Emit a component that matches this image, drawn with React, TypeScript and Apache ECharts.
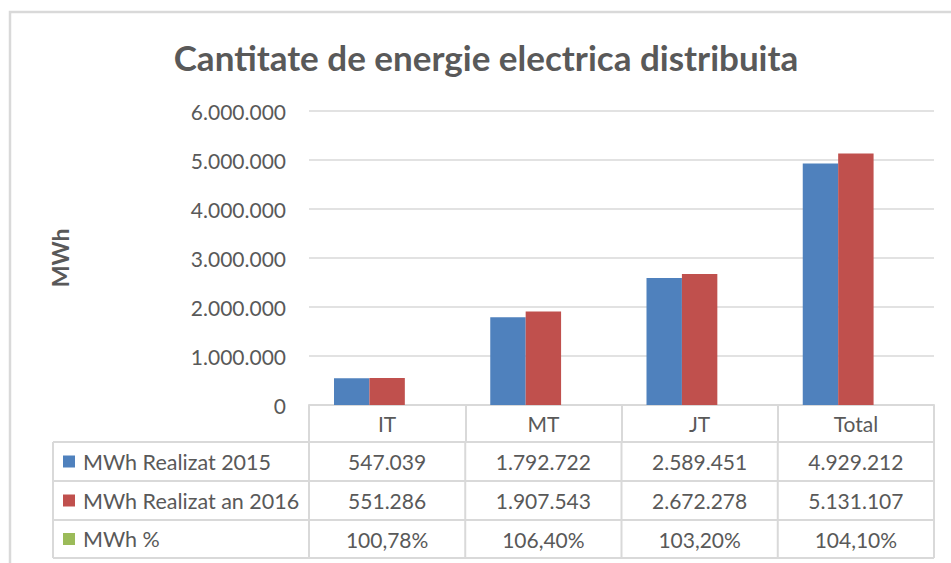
import React, { useEffect, useRef } from "react";
import * as echarts from "echarts";

const categories = ["IT", "MT", "JT", "Total"];
const seriesNames = ["MWh Realizat 2015", "MWh Realizat an 2016", "MWh %"];
const realizat2015 = [547039, 1792722, 2589451, 4929212];
const realizat2016 = [551286, 1907543, 2672278, 5131107];
const percent = [100.78, 106.4, 103.2, 104.1];
const colors = ["#4F81BD", "#C0504D", "#9BBB59"];

const fmtInt = (n: number) => String(Math.round(n)).replace(/\B(?=(\d{3})+(?!\d))/g, ".");
const fmtPct = (n: number) => n.toFixed(2).replace(".", ",") + "%";

const W = 951;
const H = 563;
const GRID_LEFT = 309;
const GRID_RIGHT = 934;
const GRID_TOP = 111;
const GRID_BOTTOM = 405;
const TABLE_LEFT = 53;
const ROW_LINES = [442, 481, 520, 558];
const FONT = "Lato, 'Open Sans', sans-serif";
const TXT = "#595959";
const LINE = "#d9d9d9";

export default function App() {
  const ref = useRef<HTMLDivElement>(null);
  useEffect(() => {
    document.body.style.margin = "0";
    if (!ref.current) return;
    const chart = echarts.init(ref.current, undefined, { renderer: "svg" });
    const colW = (GRID_RIGHT - GRID_LEFT) / categories.length;
    const rowsText = [realizat2015.map(fmtInt), realizat2016.map(fmtInt), percent.map(fmtPct)];
    const graphics: any[] = [
      {
        type: "rect",
        shape: { x: 10, y: 12, width: 1000, height: 700 },
        style: { fill: "none", stroke: LINE, lineWidth: 2.5 },
        silent: true,
      },
      {
        type: "text",
        x: 486,
        y: 57,
        style: {
          text: "Cantitate de energie electrica distribuita",
          font: `bold 35px ${FONT}`,
          fill: TXT,
          textAlign: "center",
          textVerticalAlign: "middle",
        },
      },
    ];
    ROW_LINES.forEach((y) => {
      graphics.push({
        type: "line",
        shape: { x1: TABLE_LEFT, y1: y, x2: GRID_RIGHT, y2: y },
        style: { stroke: LINE, lineWidth: 2 },
      });
    });
    const xs = [TABLE_LEFT];
    for (let i = 0; i <= categories.length; i++) xs.push(GRID_LEFT + i * colW);
    xs.forEach((x) => {
      graphics.push({
        type: "line",
        shape: { x1: x, y1: ROW_LINES[0], x2: x, y2: ROW_LINES[ROW_LINES.length - 1] },
        style: { stroke: LINE, lineWidth: 2 },
      });
    });
    seriesNames.forEach((name, r) => {
      const cy = (ROW_LINES[r] + ROW_LINES[r + 1]) / 2;
      graphics.push({
        type: "rect",
        shape: { x: 63, y: cy - 6, width: 12, height: 12 },
        style: { fill: colors[r] },
      });
      graphics.push({
        type: "text",
        x: 83,
        y: cy,
        style: { text: name, font: `21.5px ${FONT}`, fill: TXT, textVerticalAlign: "middle" },
      });
      rowsText[r].forEach((t, c) => {
        graphics.push({
          type: "text",
          x: GRID_LEFT + (c + 0.5) * colW,
          y: cy,
          style: {
            text: t,
            font: `21px ${FONT}`,
            fill: TXT,
            textAlign: "center",
            textVerticalAlign: "middle",
          },
        });
      });
    });

    chart.setOption({
      animation: false,
      grid: {
        left: GRID_LEFT,
        right: W - GRID_RIGHT,
        top: GRID_TOP,
        bottom: H - GRID_BOTTOM,
        containLabel: false,
      },
      xAxis: {
        type: "category",
        data: categories,
        axisLine: { lineStyle: { color: LINE, width: 2 } },
        axisTick: { show: true, length: 37, interval: 0, lineStyle: { color: LINE, width: 2 } },
        axisLabel: {
          margin: 18,
          verticalAlign: "middle",
          color: TXT,
          fontSize: 21,
          fontFamily: FONT,
        },
      },
      yAxis: {
        type: "value",
        min: 0,
        max: 6000000,
        interval: 1000000,
        name: "MWh",
        nameLocation: "middle",
        nameRotate: 90,
        nameGap: 238,
        nameTextStyle: { color: TXT, fontSize: 23, fontWeight: "bold", fontFamily: FONT },
        axisLine: { show: false },
        axisTick: { show: false },
        axisLabel: {
          margin: 23,
          color: TXT,
          fontSize: 21,
          fontFamily: FONT,
          formatter: (v: number) => fmtInt(v),
        },
        splitLine: { lineStyle: { color: LINE, width: 1.5 } },
      },
      series: [
        {
          name: seriesNames[0],
          type: "bar",
          data: realizat2015,
          itemStyle: { color: colors[0] },
          barGap: "0%",
          barCategoryGap: "32%",
        },
        {
          name: seriesNames[1],
          type: "bar",
          data: realizat2016,
          itemStyle: { color: colors[1] },
          barGap: "0%",
          barCategoryGap: "32%",
        },
        {
          name: seriesNames[2],
          type: "bar",
          data: percent.map((p) => p / 100),
          itemStyle: { color: colors[2] },
          barGap: "0%",
          barCategoryGap: "32%",
        },
      ],
      graphic: graphics,
    });
    return () => chart.dispose();
  }, []);
  return <div ref={ref} style={{ width: W, height: H }} />;
}
